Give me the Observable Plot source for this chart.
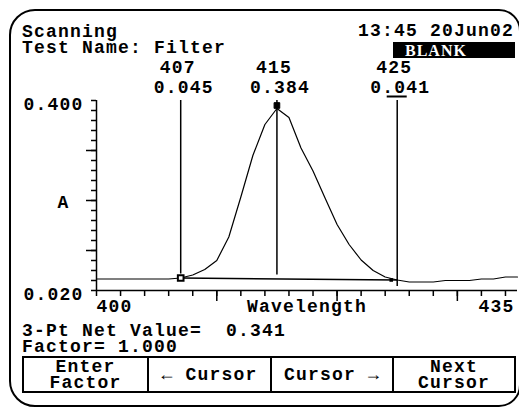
<!DOCTYPE html>
<html>
<head>
<meta charset="utf-8">
<script src="https://cdn.jsdelivr.net/npm/d3@7"></script>
<script src="https://cdn.jsdelivr.net/npm/@observablehq/plot@0.6"></script>
<style>
  html, body { margin: 0; padding: 0; background: #fff; }
  #screen { position: relative; width: 519px; height: 407px; overflow: hidden; background: #fff;
    font-family: "Liberation Mono", "DejaVu Sans Mono", monospace; font-weight: bold; font-size: 18px;
    letter-spacing: 1.2px; color: #000; }
  #border { position: absolute; left: 9px; top: 9px; width: 508px; height: 394px; border: 2px solid #000;
    border-radius: 26px 22px 22px 26px; z-index: 3; pointer-events: none; }
  .t { position: absolute; white-space: pre; line-height: 16px; z-index: 2; }
  #chart { position: absolute; left: 0; top: 0; z-index: 1; }
  #blank { position: absolute; left: 393px; top: 42px; width: 122px; height: 16px; background: #000; color: #fff;
    font-family: "Liberation Serif", "DejaVu Serif", serif; font-size: 16px; line-height: 16px; letter-spacing: 1px;
    padding-left: 12px; padding-top: 1px; box-sizing: border-box; z-index: 2; }
  #buttons { position: absolute; left: 22px; top: 356px; width: 494px; height: 37px; border: 2px solid #000;
    box-sizing: border-box; display: flex; z-index: 2; }
  .btn { display: flex; align-items: center; justify-content: center; text-align: center; white-space: pre;
    line-height: 16px; box-sizing: border-box; }
  .btn + .btn { border-left: 2px solid #000; }
</style>
</head>
<body>
<div id="screen">
  <div id="border"></div>
  <div id="chart"></div>
</div>
<script>
// ---- header / footer texts ----
const statusText = "Scanning";
const testNameText = "Test Name: Filter";
const timeText = "13:45 20Jun02";
const modeText = "BLANK";
const netValueText = "3-Pt Net Value=  0.341";
const factorText = "Factor= 1.000";
const buttonLabels = ["Enter\nFactor", "\u2190 Cursor", "Cursor \u2192", "Next\nCursor"];
const buttonWidths = [124, 124, 123, 123];

// ---- spectrum (wavelength nm, absorbance) ----
const wavelengths = [400,401,402,403,404,405,406,407,408,409,410,411,412,413,414,415,416,417,
  418,419,420,421,422,423,424,425,426,427,428,429,430,431,432,433,434,435];
const absorbance = [0.043,0.043,0.043,0.043,0.043,0.043,0.043,0.045,0.051,0.062,0.080,0.127,0.207,0.290,0.352,0.384,0.366,0.305,
  0.259,0.205,0.152,0.112,0.081,0.060,0.047,0.041,0.037,0.037,0.037,0.040,0.040,0.040,0.043,0.043,0.047,0.047];

// ---- cursors ----
const cursorWl = [407, 415, 425];
const cursorAbs = [0.045, 0.384, 0.041];
const cursorRuleBottom = [0.045, 0.043, 0.020];
const activeCursor = 425;
const baselineWl = [407, 425];
const baselineAbs = [0.045, 0.041];

// ---- axes ----
const xDomain = [400, 435];
const yDomain = [0.020, 0.400];
const xMinorTicks = [400,402,404,406,408,410,412,414,416,418,420,422,424,426,428,430,432,434];
const xMajorTicks = [410, 420, 430];
const xLabelValues = [400, 435];
const xTickLabels = ["400", "435"];
const yMinorTicks = [0.02,0.04,0.06,0.08,0.10,0.12,0.14,0.16,0.18,0.20,0.22,0.24,0.26,0.28,0.30,0.32,0.34,0.36,0.38,0.40];
const yMajorTicks = [0.10, 0.20, 0.30];
const yLabelValues = [0.020, 0.400];
const yTickLabels = ["0.020", "0.400"];
const xAxisTitle = "Wavelength";
const yAxisTitle = "A";

// ---- html texts ----
const screen = document.getElementById("screen");
function addText(txt, css) {
  const d = document.createElement("div");
  d.className = "t";
  d.textContent = txt;
  Object.assign(d.style, css);
  screen.appendChild(d);
}
addText(statusText + "\n" + testNameText, {left: "22px", top: "24px"});
addText(timeText, {right: "5px", top: "23px"});
const blank = document.createElement("div");
blank.id = "blank"; blank.textContent = modeText; screen.appendChild(blank);
addText(netValueText + "\n" + factorText, {left: "22px", top: "323px"});
const btns = document.createElement("div");
btns.id = "buttons";
buttonLabels.forEach((lab, i) => {
  const b = document.createElement("div");
  b.className = "btn";
  b.style.width = buttonWidths[i] + "px";
  b.textContent = lab;
  btns.appendChild(b);
});
screen.appendChild(btns);

// ---- chart ----
const spectrum = wavelengths.map((w, i) => ({wl: w, a: absorbance[i]}));
const cursors = cursorWl.map((w, i) => ({wl: w, a: cursorAbs[i], bottom: cursorRuleBottom[i], top: yDomain[1]}));
const baseline = baselineWl.map((w, i) => ({wl: w, a: baselineAbs[i]}));
const fmt = d3.format(".3f");

const chart = Plot.plot({
  width: 519,
  height: 407,
  marginTop: 100,
  marginBottom: 117,
  marginLeft: 96,
  marginRight: 2,
  x: {domain: xDomain, label: null},
  y: {domain: yDomain, label: null},
  style: {background: "transparent", fontFamily: "'Liberation Mono', 'DejaVu Sans Mono', monospace",
    fontSize: "18px", fontWeight: "bold", letterSpacing: "1.2px", color: "#000"},
  marks: [
    // axis ticks
    Plot.axisY(yMinorTicks, {tickSize: 5, tickFormat: () => "", strokeWidth: 1.5, label: null}),
    Plot.axisY(yMajorTicks, {tickSize: 10, tickFormat: () => "", strokeWidth: 1.5, label: null}),
    Plot.axisX(xMinorTicks, {tickSize: 6, tickFormat: () => "", strokeWidth: 1.5, label: null}),
    Plot.axisX(xMajorTicks, {tickSize: 11, tickFormat: () => "", strokeWidth: 1.5, label: null}),
    // axis lines
    Plot.ruleX([xDomain[0]], {strokeWidth: 1.5}),
    Plot.ruleY([yDomain[0]], {strokeWidth: 1.5}),
    // tick labels
    Plot.text(yLabelValues, {y: d => d, text: (d, i) => yTickLabels[i], frameAnchor: "left",
      textAnchor: "end", lineAnchor: "middle", dx: -13, dy: 4}),
    Plot.text([xLabelValues[0]], {x: d => d, text: () => xTickLabels[0], frameAnchor: "bottom",
      textAnchor: "start", lineAnchor: "bottom", dy: 21}),
    Plot.text([xLabelValues[1]], {x: d => d, text: () => xTickLabels[1], frameAnchor: "bottom",
      textAnchor: "end", lineAnchor: "bottom", dy: 21, dx: -3}),
    Plot.text([xAxisTitle], {frameAnchor: "bottom", lineAnchor: "bottom", dy: 21}),
    Plot.text([yAxisTitle], {frameAnchor: "left", lineAnchor: "middle", dx: -39, dy: 7}),
    // spectrum
    Plot.line(spectrum, {x: "wl", y: "a", stroke: "#000", strokeWidth: 1.2}),
    // baseline between cursors
    Plot.line(baseline, {x: "wl", y: "a", stroke: "#000", strokeWidth: 1.5}),
    // cursors
    Plot.ruleX(cursors, {x: "wl", y1: "bottom", y2: "top", insetTop: -4, stroke: "#000", strokeWidth: 1.5}),
    Plot.ruleY(cursors.filter(c => c.wl === activeCursor), {x1: "wl", x2: "wl", y: "top", dy: -4,
      insetLeft: -10, insetRight: -10, stroke: "#000", strokeWidth: 2}),
    Plot.dot([cursors[0]], {x: "wl", y: "a", symbol: "square", r: 3.2, fill: "#fff", stroke: "#000", strokeWidth: 2}),
    Plot.dot([cursors[1]], {x: "wl", y: "a", symbol: "square", r: 3.2, fill: "#000", stroke: "#000", strokeWidth: 1, dy: -3}),
    Plot.dot([cursors[2]], {x: "wl", y: "a", symbol: "square", r: 2, fill: "#000", stroke: "none", dx: -6}),
    // cursor labels
    Plot.text(cursors, {x: "wl", text: d => String(d.wl), frameAnchor: "top", lineAnchor: "bottom", dy: -28, dx: -3}),
    Plot.text(cursors, {x: "wl", text: d => fmt(d.a), frameAnchor: "top", lineAnchor: "bottom", dy: -8, dx: 3})
  ]
});
document.getElementById("chart").appendChild(chart);
</script>
</body>
</html>
